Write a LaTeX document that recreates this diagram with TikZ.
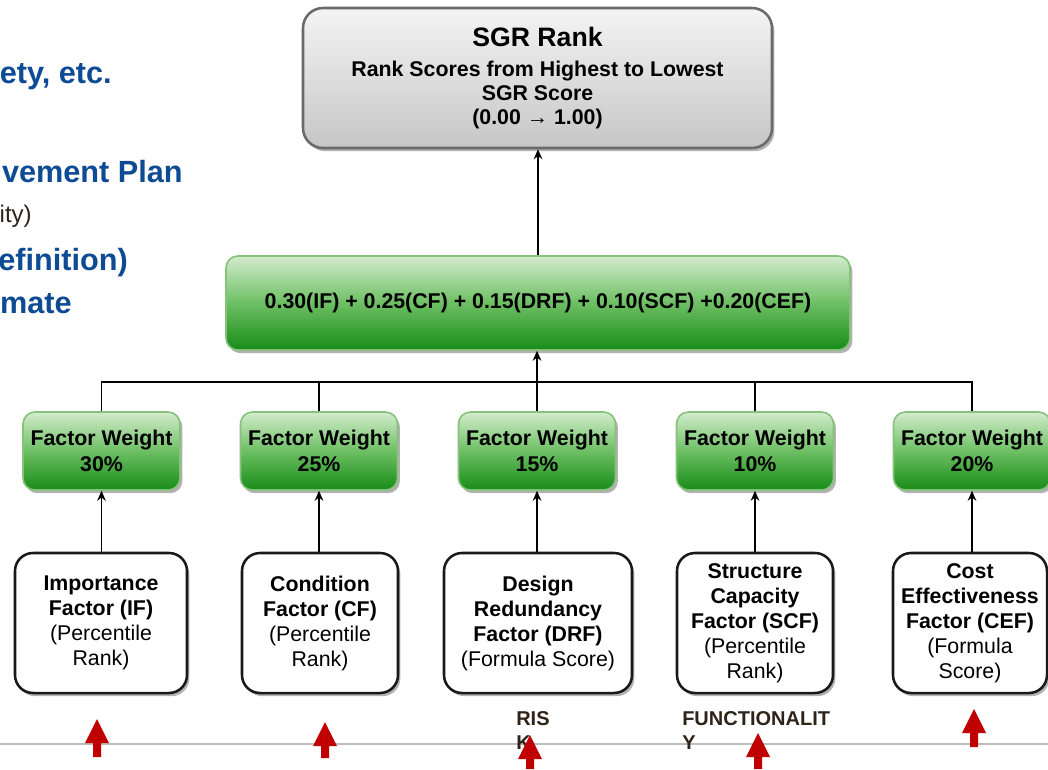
\documentclass[tikz,border=0pt]{standalone}
\usepackage{fontspec}
\setmainfont{Liberation Sans}
\usetikzlibrary{arrows.meta,shadows}
\definecolor{gtop}{HTML}{D3ECCD}
\definecolor{gmid}{HTML}{6DBF63}
\definecolor{gbot}{HTML}{178C17}
\definecolor{gborder}{HTML}{86C27C}
\definecolor{graytop}{HTML}{F4F4F4}
\definecolor{graybot}{HTML}{C6C6C6}
\definecolor{grayborder}{HTML}{6A6A6A}
\definecolor{slideblue}{HTML}{0D4B94}
\definecolor{slidetext}{HTML}{2E2318}
\definecolor{arrowred}{HTML}{C00000}
\definecolor{rulegray}{HTML}{BDBDBD}
\newcommand\RedArrow[3]{%
  \fill[arrowred] (#1-4,#3) -- (#1-4,#2+24) -- (#1-12,#2+24) -- (#1,#2) -- (#1+12,#2+24) -- (#1+4,#2+24) -- (#1+4,#3) -- cycle;}
\begin{document}
\begin{tikzpicture}[x=0.75pt,y=-0.75pt,
  boxshadow/.style={drop shadow={shadow xshift=1.8pt,shadow yshift=-2.4pt,opacity=0.3,fill=black}},
  sgrbox/.style={draw=grayborder,line width=1.9pt,rounded corners=15pt,top color=graytop,bottom color=graybot,
    minimum width=351.75pt,minimum height=105pt,align=center,boxshadow,inner sep=0pt,
    font=\fontsize{16}{18}\selectfont\bfseries},
  greenbox/.style={draw=gborder,line width=1.2pt,rounded corners=9pt,top color=gtop,bottom color=gbot,middle color=gmid,
    align=center,boxshadow,inner sep=0pt,font=\fontsize{16}{19.5}\selectfont\bfseries},
  weightbox/.style={greenbox,minimum width=117.75pt,minimum height=58.5pt},
  factorbox/.style={draw=black!90,line width=1.9pt,rounded corners=13.5pt,fill=white,boxshadow,
    minimum height=105pt,align=center,inner sep=0pt,font=\fontsize{16}{18.75}\selectfont},
  conn/.style={draw=black,line width=1.1pt},
  arr/.style={conn,-{Stealth[length=7.5pt,width=6.5pt]}},
  slidebig/.style={text=slideblue,font=\fontsize{23}{26}\selectfont\bfseries,inner sep=0pt,anchor=base east},
  slidesmall/.style={text=slidetext,font=\fontsize{18}{20}\selectfont,inner sep=0pt,anchor=base east},
  redlabel/.style={text=slidetext,font=\fontsize{15}{18}\selectfont\bfseries,inner sep=0pt,anchor=north west,align=left}
]
\useasboundingbox (0,0) rectangle (1048,769);
\fill[white] (0,0) rectangle (1048,769);

% cropped slide text on the left
\node[slidebig] (t1) at (112,83) {ety, etc.};
\node[slidebig] (t2) at (183,182) {vement Plan};
\node[slidesmall] (t3) at (32,222) {ity)};
\node[slidebig] (t4) at (128,270) {efinition)};
\node[slidebig] (t5) at (72,313) {mate};

% top box
\node[sgrbox] (sgr) at (537.5,78) {{\fontsize{20}{18}\selectfont SGR Rank}\\[4.5pt]Rank Scores from Highest to Lowest\\SGR Score\\(0.00 → 1.00)};

% formula box
\node[greenbox,minimum width=468pt,minimum height=70.5pt] (formula) at (538,303)
  {0.30(IF) + 0.25(CF) + 0.15(DRF) + 0.10(SCF) +0.20(CEF)};

% weight boxes
\node[weightbox] (w1) at (101.5,451) {Factor Weight\\30\%};
\node[weightbox] (w2) at (319,451) {Factor Weight\\25\%};
\node[weightbox] (w3) at (537,451) {Factor Weight\\15\%};
\node[weightbox] (w4) at (755,451) {Factor Weight\\10\%};
\node[weightbox] (w5) at (972,451) {Factor Weight\\20\%};

% factor boxes
\node[factorbox,minimum width=129pt] (f1) at (101,623) {\textbf{Importance}\\\textbf{Factor (IF)}\\(Percentile\\Rank)};
\node[factorbox,minimum width=117pt] (f2) at (320,623) {\textbf{Condition}\\\textbf{Factor (CF)}\\(Percentile\\Rank)};
\node[factorbox,minimum width=141pt] (f3) at (538,623) {\textbf{Design}\\\textbf{Redundancy}\\\textbf{Factor (DRF)}\\(Formula Score)};
\node[factorbox,minimum width=117pt] (f4) at (755,623) {\textbf{Structure}\\\textbf{Capacity}\\\textbf{Factor (SCF)}\\(Percentile\\Rank)};
\node[factorbox,minimum width=115.5pt] (f5) at (970,623) {\textbf{Cost}\\\textbf{Effectiveness}\\\textbf{Factor (CEF)}\\(Formula\\Score)};

% connectors
\coordinate (bus) at (537,382);
\draw[arr] (formula.north) -- (formula.north |- sgr.south);
\draw[conn] (w1.north) |- (bus) -| (w5.north);
\draw[conn] (w2.north) -- (w2.north |- bus);
\draw[conn] (w4.north) -- (w4.north |- bus);
\draw[arr] (w3.north) -- (w3.north |- formula.south);
\draw[arr] (f1.north -| w1.south) -- (w1.south);
\draw[arr] (f2.north -| w2.south) -- (w2.south);
\draw[arr] (f3.north -| w3.south) -- (w3.south);
\draw[arr] (f4.north -| w4.south) -- (w4.south);
\draw[arr] (f5.north -| w5.south) -- (w5.south);

% slide rule
\draw[rulegray,line width=1.5pt] (0,744) -- (1048,744);

% labels under boxes
\node[redlabel] (risk) at (516,711) {RIS\\K};
\node[redlabel] (func) at (682,711) {FUNCTIONALIT\\Y};

% red arrows
\RedArrow{97}{719}{757}
\RedArrow{325}{722}{758}
\RedArrow{530}{735}{769}
\RedArrow{758}{733}{769}
\RedArrow{974}{709}{747}
\end{tikzpicture}
\end{document}
